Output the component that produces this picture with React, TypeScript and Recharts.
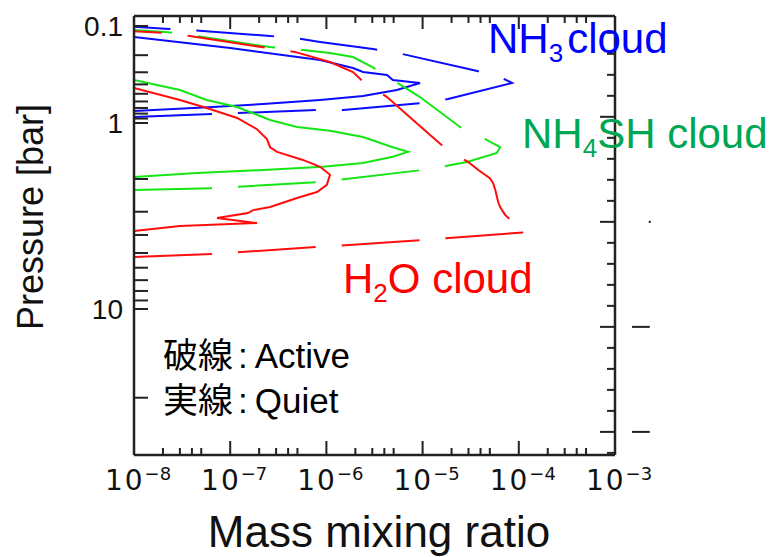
import React from 'react';
import { LineChart, Line, XAxis, YAxis, ReferenceLine, ReferenceDot } from 'recharts';

// ---- Profiles: mass mixing ratio vs pressure [bar] ----
// Dashed = Active, solid = Quiet

const nh3ActiveRatio = [1.0e-8, 6.6e-8, 8.0e-7, 1.5e-6, 9.9e-6, 1.84e-5, 8.5e-5, 6.4e-5, 3.7e-5, 5.55e-6, 3.05e-6, 8.6e-7, 4.7e-7, 2.6e-7, 3.8e-8, 2.1e-8, 1.0e-8];
const nh3ActivePressure = [0.867, 0.808, 0.735, 0.735, 0.622, 0.566, 0.387, 0.336, 0.291, 0.19, 0.173, 0.146, 0.133, 0.127, 0.11, 0.107, 0.102];

const nh3QuietRatio = [1.0e-8, 6.6e-8, 2.2e-7, 8.6e-7, 2.4e-6, 5.4e-6, 9.4e-6, 4.9e-6, 4.27e-6, 2.4e-6, 1.89e-6, 8.6e-7, 1.0e-7, 1.0e-8];
const nh3QuietPressure = [0.751, 0.684, 0.637, 0.579, 0.527, 0.457, 0.387, 0.36, 0.32, 0.298, 0.271, 0.224, 0.169, 0.13];

const nh4shActiveRatio = [1.0e-8, 6.6e-8, 8.2e-7, 9.9e-6, 1.79e-5, 2.9e-5, 5.9e-5, 6.4e-5, 4.1e-5, 2.45e-5, 9.4e-6, 4.9e-6, 3.0e-6, 1.89e-6, 1.09e-6, 4.7e-7, 2.6e-7, 3.8e-8, 2.1e-8, 1.0e-8];
const nh4shActivePressure = [2.29, 2.24, 2.08, 1.79, 1.7, 1.62, 1.45, 1.35, 1.19, 1.05, 0.54, 0.36, 0.265, 0.209, 0.19, 0.173, 0.165, 0.124, 0.115, 0.11];

const nh4shQuietRatio = [1.0e-8, 3.0e-8, 5.7e-8, 1.18e-7, 2.6e-7, 4.95e-7, 1.09e-6, 2.4e-6, 4.9e-6, 7.05e-6, 4.9e-6, 2.4e-6, 9.2e-7, 2.2e-7, 4.5e-8, 1.0e-8];
const nh4shQuietPressure = [0.36, 0.457, 0.579, 0.684, 0.931, 1.05, 1.1, 1.19, 1.35, 1.43, 1.52, 1.64, 1.72, 1.79, 1.86, 1.95];

const h2oActiveRatio = [1.0e-8, 6.6e-8, 8.2e-7, 9.9e-6, 1.22e-4, 8.7e-5, 7.2e-5, 6.4e-5, 6.1e-5, 5.7e-5, 5.4e-5, 5.0e-5, 3.8e-5, 2.97e-5, 1.75e-5, 7.95e-6, 4.27e-6, 2.5e-6, 1.89e-6, 1.09e-6, 4.7e-7, 2.5e-7, 3.8e-8, 2.1e-8, 1.0e-8];
const h2oActivePressure = [5.25, 5.06, 4.64, 4.26, 3.86, 3.41, 3.12, 2.83, 2.66, 2.29, 2.1, 1.98, 1.79, 1.62, 1.38, 0.931, 0.54, 0.387, 0.298, 0.235, 0.185, 0.169, 0.127, 0.118, 0.113];

const h2oQuietRatio = [1.0e-8, 3.0e-8, 5.7e-8, 1.18e-7, 1.9e-7, 2.41e-7, 2.6e-7, 3.07e-7, 5.7e-7, 8.6e-7, 1.09e-6, 1.01e-6, 8.0e-7, 4.95e-7, 2.6e-7, 1.73e-7, 1.53e-7, 7.3e-8, 1.9e-7, 3.0e-8, 1.0e-8];
const h2oQuietPressure = [0.436, 0.579, 0.7, 0.888, 1.08, 1.22, 1.35, 1.43, 1.58, 1.72, 1.9, 2.15, 2.35, 2.53, 2.83, 2.94, 3.05, 3.24, 3.45, 3.58, 3.81];

// ---- Axis ticks ----
const ratioDecades = [1e-8, 1e-7, 1e-6, 1e-5, 1e-4, 1e-3];
const ratioMinorMultipliers = [2, 3, 4, 5];
const pressureTicks = [0.1, 0.2, 0.3, 0.4, 0.5, 0.6, 0.7, 0.8, 0.9, 1, 2, 3, 4, 5, 6, 7, 8, 9, 10, 30];
const pressureLabels = [0.1, 1, 10];
const frameTicks = [20, 40, 60, 80, 100, 120, 140, 160, 180, 200, 220, 240, 260, 280, 300, 320, 340, 360, 380, 400, 420];

const BLUE = '#0a0aff';
const GREEN = '#14e614';
const RED = '#ff0d0d';
const AXIS = '#222';
const DASH = '78 26';

// Pressure axis: log scale, with the decades below 1 bar drawn stretched
const LOWER_STRETCH = 186 / 97;
const pressureAxis = (p: number) => {
  const lp = Math.log10(p);
  return lp <= 0 ? lp + 1 : 1 + lp * LOWER_STRETCH;
};
const P_DOMAIN: [number, number] = [-0.103, 4.423];

const toPoints = (ratio: number[], pressure: number[]) =>
  ratio.map((r, i) => ({ x: r, y: pressureAxis(pressure[i]) }));

const series = [
  { name: 'NH3 Active', data: toPoints(nh3ActiveRatio, nh3ActivePressure), color: BLUE, dashed: true },
  { name: 'NH3 Quiet', data: toPoints(nh3QuietRatio, nh3QuietPressure), color: BLUE, dashed: false },
  { name: 'NH4SH Active', data: toPoints(nh4shActiveRatio, nh4shActivePressure), color: GREEN, dashed: true },
  { name: 'NH4SH Quiet', data: toPoints(nh4shQuietRatio, nh4shQuietPressure), color: GREEN, dashed: false },
  { name: 'H2O Active', data: toPoints(h2oActiveRatio, h2oActivePressure), color: RED, dashed: true },
  { name: 'H2O Quiet', data: toPoints(h2oQuietRatio, h2oQuietPressure), color: RED, dashed: false },
];

const ratioTicks: number[] = [];
ratioDecades.forEach((d, i) => {
  ratioTicks.push(d);
  if (i < ratioDecades.length - 1) ratioMinorMultipliers.forEach((m) => ratioTicks.push(m * d));
});

const isDecade = (v: number) => {
  const l = Math.log10(v);
  return Math.abs(l - Math.round(l)) < 1e-6;
};

const BottomTick = (props: any) => {
  const { x, y, payload } = props;
  const v = payload.value;
  const major = isDecade(v);
  const e = Math.round(Math.log10(v));
  return (
    <g>
      <line x1={x} x2={x} y1={y} y2={y - (major ? 14 : 7)} stroke={AXIS} strokeWidth={2} />
      {major && (
        <text x={x + 4} y={y + 35} textAnchor="middle" fontFamily="'DejaVu Sans', sans-serif" fontSize={28} fill="#111">
          <tspan letterSpacing={2}>10</tspan>
          <tspan dy={-10} fontSize={18}>{`\u2212${-e}`}</tspan>
        </text>
      )}
    </g>
  );
};

const TopTick = (props: any) => {
  const { x, y, payload } = props;
  const major = isDecade(payload.value);
  return <line x1={x} x2={x} y1={y} y2={y + (major ? 13 : 7)} stroke={AXIS} strokeWidth={2} />;
};

const LeftTick = (props: any) => {
  const { x, y, index } = props;
  const p = pressureTicks[index];
  const labelled = pressureLabels.includes(p);
  return (
    <g>
      <line x1={x} x2={x + 14} y1={y} y2={y} stroke={AXIS} strokeWidth={2} />
      {labelled && (
        <text x={x - 11} y={y + 10} textAnchor="end" fontFamily="'Liberation Sans', Arial, sans-serif" fontSize={28} fill="#111">
          {String(p)}
        </text>
      )}
    </g>
  );
};

const RightTick = (props: any) => {
  const { x, y, payload } = props;
  const major = payload.value % 100 === 0;
  return <line x1={x} x2={x - (major ? 15 : 8)} y1={y} y2={y} stroke={AXIS} strokeWidth={2} />;
};

const SANS = "'Liberation Sans', Arial, sans-serif";

export default function App() {
  return (
    <div style={{ position: 'absolute', left: 0, top: 0, width: 771, height: 557, background: '#fff' }}>
      <LineChart width={771} height={557} margin={{ top: 15, right: 155, bottom: 101, left: 133 }}>
        <XAxis
          xAxisId="bottom"
          dataKey="x"
          type="number"
          scale="log"
          domain={[1e-8, 1e-3]}
          allowDataOverflow
          ticks={ratioTicks}
          interval={0}
          height={1}
          tickSize={0}
          tickMargin={0}
          tickLine={false}
          tick={<BottomTick />}
          axisLine={{ stroke: AXIS, strokeWidth: 2.5 }}
        />
        <XAxis
          xAxisId="top"
          orientation="top"
          dataKey="x"
          type="number"
          scale="log"
          domain={[1e-8, 1e-3]}
          allowDataOverflow
          ticks={ratioTicks}
          interval={0}
          height={1}
          tickSize={0}
          tickMargin={0}
          tickLine={false}
          tick={<TopTick />}
          axisLine={{ stroke: AXIS, strokeWidth: 2.5 }}
        />
        <YAxis
          yAxisId="p"
          dataKey="y"
          type="number"
          domain={P_DOMAIN}
          reversed
          allowDataOverflow
          ticks={pressureTicks.map(pressureAxis)}
          interval={0}
          width={1}
          tickSize={0}
          tickMargin={0}
          tickLine={false}
          tick={<LeftTick />}
          axisLine={{ stroke: AXIS, strokeWidth: 2.5 }}
        />
        <YAxis
          yAxisId="frame"
          orientation="right"
          type="number"
          domain={[4, 422]}
          reversed
          allowDataOverflow
          ticks={frameTicks}
          interval={0}
          width={1}
          tickSize={0}
          tickMargin={0}
          tickLine={false}
          tick={<RightTick />}
          axisLine={{ stroke: AXIS, strokeWidth: 2.5 }}
        />
        {series.map((s) => (
          <Line
            key={s.name}
            name={s.name}
            xAxisId="bottom"
            yAxisId="p"
            data={s.data}
            dataKey="y"
            type="linear"
            stroke={s.color}
            strokeWidth={2}
            strokeDasharray={s.dashed ? DASH : undefined}
            dot={false}
            activeDot={false}
            isAnimationActive={false}
          />
        ))}
        <ReferenceLine
          xAxisId="bottom"
          yAxisId="frame"
          segment={[{ x: 1.5e-3, y: 300 }, { x: 2.3e-3, y: 300 }]}
          stroke={AXIS}
          strokeWidth={2}
          ifOverflow="visible"
        />
        <ReferenceLine
          xAxisId="bottom"
          yAxisId="frame"
          segment={[{ x: 1.5e-3, y: 400 }, { x: 2.3e-3, y: 400 }]}
          stroke={AXIS}
          strokeWidth={2}
          ifOverflow="visible"
        />
        <ReferenceDot xAxisId="bottom" yAxisId="frame" x={2.3e-3} y={200} r={1.2} fill={AXIS} stroke="none" ifOverflow="visible" />
      </LineChart>

      <svg width={771} height={557} style={{ position: 'absolute', left: 0, top: 0, pointerEvents: 'none' }}>
        <text x={488} y={53} fontFamily={SANS} fontSize={42} fill="#0000ff">
          NH<tspan fontSize={26} dy={9}>3</tspan>
          <tspan dy={-9} dx={4}>cloud</tspan>
        </text>
        <text x={522} y={148} fontFamily={SANS} fontSize={42} fill="#00a651">
          NH<tspan fontSize={26} dy={9}>4</tspan>
          <tspan dy={-9}>SH cloud</tspan>
        </text>
        <text x={343} y={293} fontFamily={SANS} fontSize={42} fill="#ff0000">
          H<tspan fontSize={26} dy={9}>2</tspan>
          <tspan dy={-9}>O cloud</tspan>
        </text>
        <text x={163} y={368} fontFamily={`${SANS}, 'Noto Sans CJK JP'`} fontSize={35} fill="#000">
          破線<tspan dx={5}>:</tspan><tspan dx={7}>Active</tspan>
        </text>
        <text x={163} y={413} fontFamily={`${SANS}, 'Noto Sans CJK JP'`} fontSize={35} fill="#000">
          実線<tspan dx={5}>:</tspan><tspan dx={7}>Quiet</tspan>
        </text>
        <text
          transform="translate(43, 217) rotate(-90)"
          textAnchor="middle"
          fontFamily={SANS}
          fontSize={36}
          fill="#111"
        >
          Pressure [bar]
        </text>
        <text x={379} y={547} textAnchor="middle" fontFamily={SANS} fontSize={44} fill="#111">
          Mass mixing ratio
        </text>
      </svg>
    </div>
  );
}
